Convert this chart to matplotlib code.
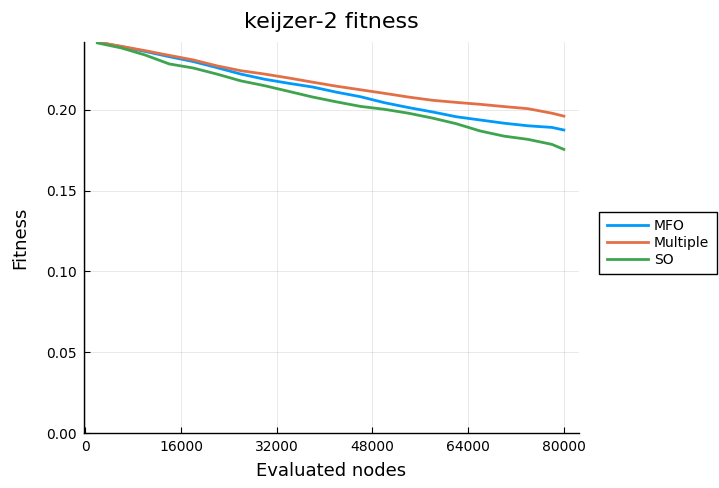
import matplotlib
matplotlib.use('Agg')
import matplotlib.pyplot as plt
from matplotlib.ticker import FormatStrFormatter

# evaluated nodes (x) and mean fitness per method
nodes = [2000, 6000, 10000, 14000, 18000, 22000, 26000, 30000, 34000, 38000,
         42000, 46000, 50000, 54000, 58000, 62000, 66000, 70000, 74000, 78000, 80000]

mfo = [0.2420, 0.2392, 0.2362, 0.2330, 0.2300, 0.2262, 0.2222, 0.2190, 0.2165, 0.2142,
       0.2110, 0.2082, 0.2045, 0.2015, 0.1988, 0.1958, 0.1938, 0.1918, 0.1902, 0.1892, 0.1876]

multiple = [0.2420, 0.2394, 0.2367, 0.2338, 0.2310, 0.2273, 0.2243, 0.2222, 0.2198, 0.2172,
            0.2147, 0.2125, 0.2103, 0.2080, 0.2060, 0.2047, 0.2035, 0.2021, 0.2008, 0.1980, 0.1962]

so = [0.2415, 0.2384, 0.2340, 0.2285, 0.2260, 0.2222, 0.2180, 0.2150, 0.2115, 0.2080,
      0.2050, 0.2022, 0.2004, 0.1980, 0.1950, 0.1915, 0.1870, 0.1838, 0.1818, 0.1787, 0.1756]

xticks = [0, 16000, 32000, 48000, 64000, 80000]
yticks = [0.00, 0.05, 0.10, 0.15, 0.20]

fig = plt.figure(figsize=(7.19, 4.88), dpi=100)
ax = fig.add_axes([0.1168, 0.1127, 0.805 - 0.1168, 0.914 - 0.1127])

ax.plot(nodes, mfo, color='#009AFA', lw=2, label='MFO')
ax.plot(nodes, multiple, color='#E36F47', lw=2, label='Multiple')
ax.plot(nodes, so, color='#3EA44E', lw=2, label='SO')

ax.set_xlim(-250, 82500)
ax.set_ylim(0, 0.2421)
ax.set_xticks(xticks)
ax.set_yticks(yticks)
ax.yaxis.set_major_formatter(FormatStrFormatter('%.2f'))
ax.tick_params(direction='in', length=4, labelsize=10, color='black', pad=5)
ax.grid(True, color='black', alpha=0.1, lw=0.6)

for side in ['top', 'right']:
    ax.spines[side].set_visible(False)
for side in ['left', 'bottom']:
    ax.spines[side].set_linewidth(1.0)

ax.set_title('keijzer-2 fitness', fontsize=16, pad=10)
ax.set_xlabel('Evaluated nodes', fontsize=13, labelpad=6)
ax.set_ylabel('Fitness', fontsize=13, labelpad=12)

leg = ax.legend(loc='center left', bbox_to_anchor=(0.833, 0.502),
                bbox_transform=fig.transFigure, borderaxespad=0,
                fontsize=10, fancybox=False,
                edgecolor='black', framealpha=1, handlelength=3.0,
                borderpad=0.55, labelspacing=0.2, handletextpad=0.4)
leg.get_frame().set_linewidth(1.0)

fig.savefig('out.png', dpi=100)
